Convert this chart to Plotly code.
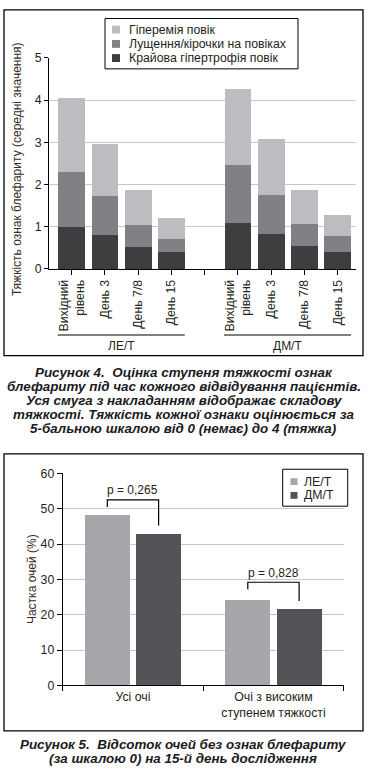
import plotly.graph_objects as go

# ---------------- Figure 4 data ----------------
visits = ["Вихідний<br>рівень", "День 3", "День 7/8", "День 15"]
groups = ["ЛЕ/Т", "ДМ/Т"]
series_names = ["Крайова гіпертрофія повік", "Лущення/кірочки на повіках", "Гіперемія повік"]
le_marginal = [1.00, 0.81, 0.53, 0.39]
le_scaling = [1.30, 0.91, 0.51, 0.33]
le_hyperemia = [1.74, 1.23, 0.82, 0.48]
dm_marginal = [1.09, 0.83, 0.55, 0.41]
dm_scaling = [1.37, 0.91, 0.51, 0.37]
dm_hyperemia = [1.80, 1.33, 0.80, 0.49]

# ---------------- Figure 5 data ----------------
categories5 = ["Усі очі", "Очі з високим<br>ступенем тяжкості"]
series5 = ["ЛЕ/Т", "ДМ/Т"]
le5 = [48.2, 24.1]
dm5 = [43.0, 21.6]
pvals = ["p = 0,265", "p = 0,828"]

W, H = 369, 781
FONT = "Liberation Sans, Arial, sans-serif"
TXT = "#231f20"


def py(p):  # pixel y -> paper y
    return 1 - p / H


def px(p):
    return p / W


fig = go.Figure()

# positions: group 1 at 0..3, gap at 4, group 2 at 5..8
pos_le = list(range(len(visits)))
pos_dm = [len(visits) + 1 + i for i in range(len(visits))]
all_pos = pos_le + pos_dm
colors4 = ["#3e3e40", "#808184", "#bcbdc0"]
stack_data = [(le_marginal, dm_marginal), (le_scaling, dm_scaling), (le_hyperemia, dm_hyperemia)]
for name, col, (le, dm) in zip(series_names, colors4, stack_data):
    fig.add_trace(go.Bar(x=all_pos, y=le + dm, name=name, marker=dict(color=col, line=dict(width=0)),
                         width=0.8, xaxis="x", yaxis="y", showlegend=False))

off5 = 0.1826
colors5 = ["#a6a7aa", "#545458"]
for k, (name, vals, col) in enumerate(zip(series5, [le5, dm5], colors5)):
    sign = -1 if k == 0 else 1
    fig.add_trace(go.Bar(x=[i + sign * off5 for i in range(len(categories5))], y=vals, name=name,
                         marker=dict(color=col, line=dict(width=0)), width=0.32,
                         xaxis="x2", yaxis="y2", showlegend=False))

shapes = []
annotations = []


def ann(x, y, text, size=12, color=TXT, xanchor="center", yanchor="middle", xref="paper", yref="paper",
        angle=0):
    annotations.append(dict(x=x, y=y, xref=xref, yref=yref, text=text, showarrow=False,
                            xanchor=xanchor, yanchor=yanchor, textangle=angle,
                            font=dict(size=size, color=color, family=FONT)))


# frames
shapes.append(dict(type="rect", xref="paper", yref="paper", x0=px(4), x1=px(363), y0=py(355), y1=py(3),
                   line=dict(color="black", width=1.3)))
shapes.append(dict(type="rect", xref="paper", yref="paper", x0=px(4), x1=px(363), y0=py(737), y1=py(455),
                   line=dict(color="black", width=1.3)))

# legend 1 (built as a boxed key)
shapes.append(dict(type="rect", xref="paper", yref="paper", x0=px(105), x1=px(298), y0=py(63), y1=py(11.7),
                   line=dict(color="black", width=1), fillcolor="white", layer="above"))
rows1 = [23, 37.6, 52]
for name, col, ry in zip(series_names[::-1], colors4[::-1], rows1):
    shapes.append(dict(type="rect", xref="paper", yref="paper", x0=px(112), x1=px(120), y0=py(ry + 4),
                       y1=py(ry - 4), line=dict(width=0), fillcolor=col, layer="above"))
    ann(px(126.5), py(ry), name, size=12.3, xanchor="left")

# legend 2
shapes.append(dict(type="rect", xref="paper", yref="paper", x0=px(282.7), x1=px(347.7), y0=py(508.3),
                   y1=py(470.7), line=dict(color="black", width=1), fillcolor="white", layer="above"))
rows2 = [483.3, 497.3]
for name, col, ry in zip(series5, colors5, rows2):
    shapes.append(dict(type="rect", xref="paper", yref="paper", x0=px(290.5), x1=px(297.5), y0=py(ry + 3.5),
                       y1=py(ry - 3.5), line=dict(width=0), fillcolor=col, layer="above"))
    ann(px(301.5), py(ry), name, size=12.3, xanchor="left")

# group lines and labels for figure 4
for g, poss in zip(groups, [pos_le, pos_dm]):
    shapes.append(dict(type="line", xref="x", yref="paper", x0=poss[0] - 0.42, x1=poss[-1] + 0.4,
                       y0=py(334), y1=py(334), line=dict(color="black", width=1)))
    ann((poss[0] + poss[-1]) / 2, py(345), g, xref="x")

# y titles
ann(px(17), py(165), "Тяжкість ознак блефариту (середні значення)", color="#3a2a28", angle=-90)
ann(px(31.5), py(583), "Частка очей (%)", color="#3a2a28", angle=-90)

# brackets and p-values
bracket_top = [52.5, 29.2]
for i in range(len(categories5)):
    xl, xr = i - off5, i + off5
    top = bracket_top[i]
    shapes.append(dict(type="path", xref="x2", yref="y2",
                       path=f"M {xl},{top - 2} L {xl},{top} L {xr},{top} L {xr},{dm5[i] + 2.3}",
                       line=dict(color="black", width=1.2)))
    ann(i, top + 2.7, pvals[i], xref="x2", yref="y2")

# captions
cap4 = ["Рисунок 4.  Оцінка ступеня тяжкості ознак",
        "блефариту під час кожного відвідування пацієнтів.",
        "Уся смуга з накладанням відображає складову",
        "тяжкості. Тяжкість кожної ознаки оцінюється за",
        "5-бальною шкалою від 0 (немає) до 4 (тяжка)"]
for j, line in enumerate(cap4):
    ann(0.498, py(372 + 14.2 * j), f"<b><i>{line}</i></b>", size=13.4, color="#1a1a22")
cap5 = ["Рисунок 5.  Відсоток очей без ознак блефариту",
        "(за шкалою 0) на 15-й день дослідження"]
for j, line in enumerate(cap5):
    ann(0.496, py(751 + 14.6 * j), f"<b><i>{line}</i></b>", size=13.4, color="#1a1a22")

axis_common = dict(showline=True, linecolor="black", linewidth=1, zeroline=False,
                   tickfont=dict(size=12.3, color=TXT, family=FONT), tickcolor="black")

fig.update_layout(
    width=W, height=H, margin=dict(l=0, r=0, t=0, b=0),
    paper_bgcolor="white", plot_bgcolor="white",
    barmode="stack",
    font=dict(family=FONT, color=TXT, size=12),
    xaxis=dict(domain=[px(49), px(356)], range=[-0.683, 8.55], anchor="y",
               tickvals=all_pos + [len(visits)], ticktext=visits + visits + [""],
               tickangle=-90, ticks="outside", ticklen=5, showgrid=False, **axis_common),
    yaxis=dict(domain=[py(266.7), py(51.7)], range=[0, 5], dtick=1, anchor="x",
               ticks="outside", ticklen=4, showgrid=True, gridcolor="#c8c8c8", gridwidth=1,
               **axis_common),
    xaxis2=dict(domain=[px(62.7), px(343.7)], range=[-0.5, 1.5], anchor="y2",
                tickvals=list(range(len(categories5))), ticktext=categories5, ticks="", showgrid=False,
                minor=dict(tickvals=[-0.5, 0.5, 1.5], ticks="outside", ticklen=5, tickcolor="black"),
                **axis_common),
    yaxis2=dict(domain=[py(690.7), py(475)], range=[0, 60], dtick=10, anchor="x2",
                ticks="outside", ticklen=5, showgrid=True, gridcolor="#c8c8c8", gridwidth=1,
                **axis_common),
    shapes=shapes, annotations=annotations, showlegend=False,
)

fig.write_html("out.html", config={"displayModeBar": False},
               post_script="document.body.style.margin='0';document.body.style.overflow='hidden';")
